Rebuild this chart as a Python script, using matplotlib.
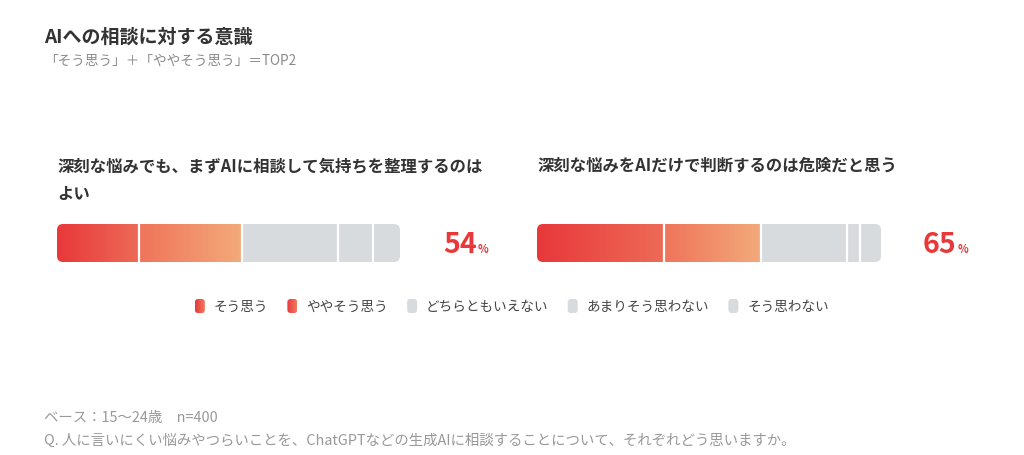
import numpy as np
import matplotlib
matplotlib.use("Agg")
import matplotlib.pyplot as plt
from matplotlib.patches import FancyBboxPatch
from matplotlib.colors import LinearSegmentedColormap

plt.rcParams['font.family'] = ['Noto Sans CJK JP', 'DejaVu Sans']

# data
title = "AIへの相談に対する意識"
subtitle = "「そう思う」＋「ややそう思う」＝TOP2"
questions = ["深刻な悩みでも、まずAIに相談して気持ちを整理するのは\nよい",
             "深刻な悩みをAIだけで判断するのは危険だと思う"]
categories = ["そう思う", "ややそう思う", "どちらともいえない", "あまりそう思わない", "そう思わない"]
q1_values = [24, 30, 28, 10, 8]
q2_values = [37, 28, 25, 4, 6]
footer_base = "ベース：15〜24歳　n=400"
footer_q = "Q. 人に言いにくい悩みやつらいことを、ChatGPTなどの生成AIに相談することについて、それぞれどう思いますか。"

W, H = 1024, 456
RED = "#e8383a"
GRAY = "#d8dbde"
DARK = "#333333"
seg_cmaps = [LinearSegmentedColormap.from_list("s1", ["#e8383a", "#ed6b57"]),
             LinearSegmentedColormap.from_list("s2", ["#ef7459", "#f3aa7b"]),
             None, None, None]
legend_cmap = LinearSegmentedColormap.from_list("lg", ["#e8383a", "#f07a60"])

fig = plt.figure(figsize=(W / 100, H / 100), dpi=100)
fig.patch.set_facecolor("white")

# overlay axes in pixel coords for text / legend
ov = fig.add_axes([0, 0, 1, 1])
ov.set_xlim(0, W)
ov.set_ylim(H, 0)
ov.axis("off")

ov.text(44, 37, title, fontsize=13.7, fontweight="bold", color=DARK, va="center")
ov.text(44, 61, subtitle, fontsize=9.8, color="#8a8a8a", va="center")


def draw_bar(rect, values):
    ax = fig.add_axes(rect)
    ax.set_xlim(0, 100)
    ax.set_ylim(0, 1)
    ax.axis("off")
    wpx = rect[2] * W
    hpx = rect[3] * H
    r = 6 / wpx * 100
    clip = FancyBboxPatch((0, 0), 100, 1, boxstyle=f"round,pad=0,rounding_size={r}",
                          mutation_aspect=(wpx / 100) / hpx, transform=ax.transData,
                          facecolor="none", edgecolor="none")
    ax.add_patch(clip)
    left = 0
    grad = np.linspace(0, 1, 256).reshape(1, -1)
    for v, cm in zip(values, seg_cmaps):
        if cm is None:
            b = ax.barh(0.5, v, left=left, height=1, color=GRAY)
            for p in b:
                p.set_clip_path(clip)
        else:
            im = ax.imshow(grad, cmap=cm, extent=[left, left + v, 0, 1], aspect="auto")
            im.set_clip_path(clip)
        left += v
    cum = np.cumsum(values)[:-1]
    for c in cum:
        ax.axvline(c, color="white", lw=1.6)
    ax.set_xlim(0, 100)
    ax.set_ylim(0, 1)
    return ax


bar_top, bar_h = 225, 38
panels = [(57, 343), (537, 344)]
pct_x = [443, 923]
fig.canvas.draw()
renderer = fig.canvas.get_renderer()
for (x0, w), q, vals, px in zip(panels, questions, [q1_values, q2_values], pct_x):
    ov.text(x0, 157, q, fontsize=11.8, fontweight="bold", color=DARK, va="top", linespacing=1.75)
    draw_bar([x0 / W, 1 - (bar_top + bar_h) / H, w / W, bar_h / H], vals)
    top2 = vals[0] + vals[1]
    t = ov.text(px, 253, f"{top2}", fontsize=20.5, fontweight="bold", color=RED, va="baseline")
    bb = t.get_window_extent(renderer=renderer)
    ov.text(bb.x1 + 1, 253, "%", fontsize=8, fontweight="bold", color=RED, va="baseline")

# legend, centred
sq_w, sq_h, gap1, gap2 = 10, 14, 9, 19
texts = []
widths = []
for c in categories:
    t = ov.text(0, 0, c, fontsize=9.8, color="#444444")
    widths.append(t.get_window_extent(renderer=renderer).width)
    texts.append(t)
total = sum(sq_w + gap1 + wd for wd in widths) + gap2 * (len(categories) - 1)
x = W / 2 - total / 2
ly = 307
for i, (c, t, wd) in enumerate(zip(categories, texts, widths)):
    if i < 2:
        clip = FancyBboxPatch((x, ly - sq_h / 2), sq_w, sq_h, boxstyle="round,pad=0,rounding_size=3",
                              facecolor="none", edgecolor="none")
        ov.add_patch(clip)
        im = ov.imshow(np.linspace(0, 1, 64).reshape(1, -1), cmap=legend_cmap,
                       extent=[x, x + sq_w, ly + sq_h / 2, ly - sq_h / 2], aspect="auto")
        im.set_clip_path(clip)
    else:
        ov.add_patch(FancyBboxPatch((x, ly - sq_h / 2), sq_w, sq_h, boxstyle="round,pad=0,rounding_size=3",
                                    facecolor=GRAY, edgecolor="none"))
    t.set_position((x + sq_w + gap1, ly))
    t.set_va("center")
    x += sq_w + gap1 + wd + gap2
ov.set_xlim(0, W)
ov.set_ylim(H, 0)

ov.text(44, 418, footer_base, fontsize=10.4, color="#999999", va="center")
ov.text(44, 441, footer_q, fontsize=10.4, color="#999999", va="center")

fig.savefig("out.png", dpi=100, facecolor="white")
